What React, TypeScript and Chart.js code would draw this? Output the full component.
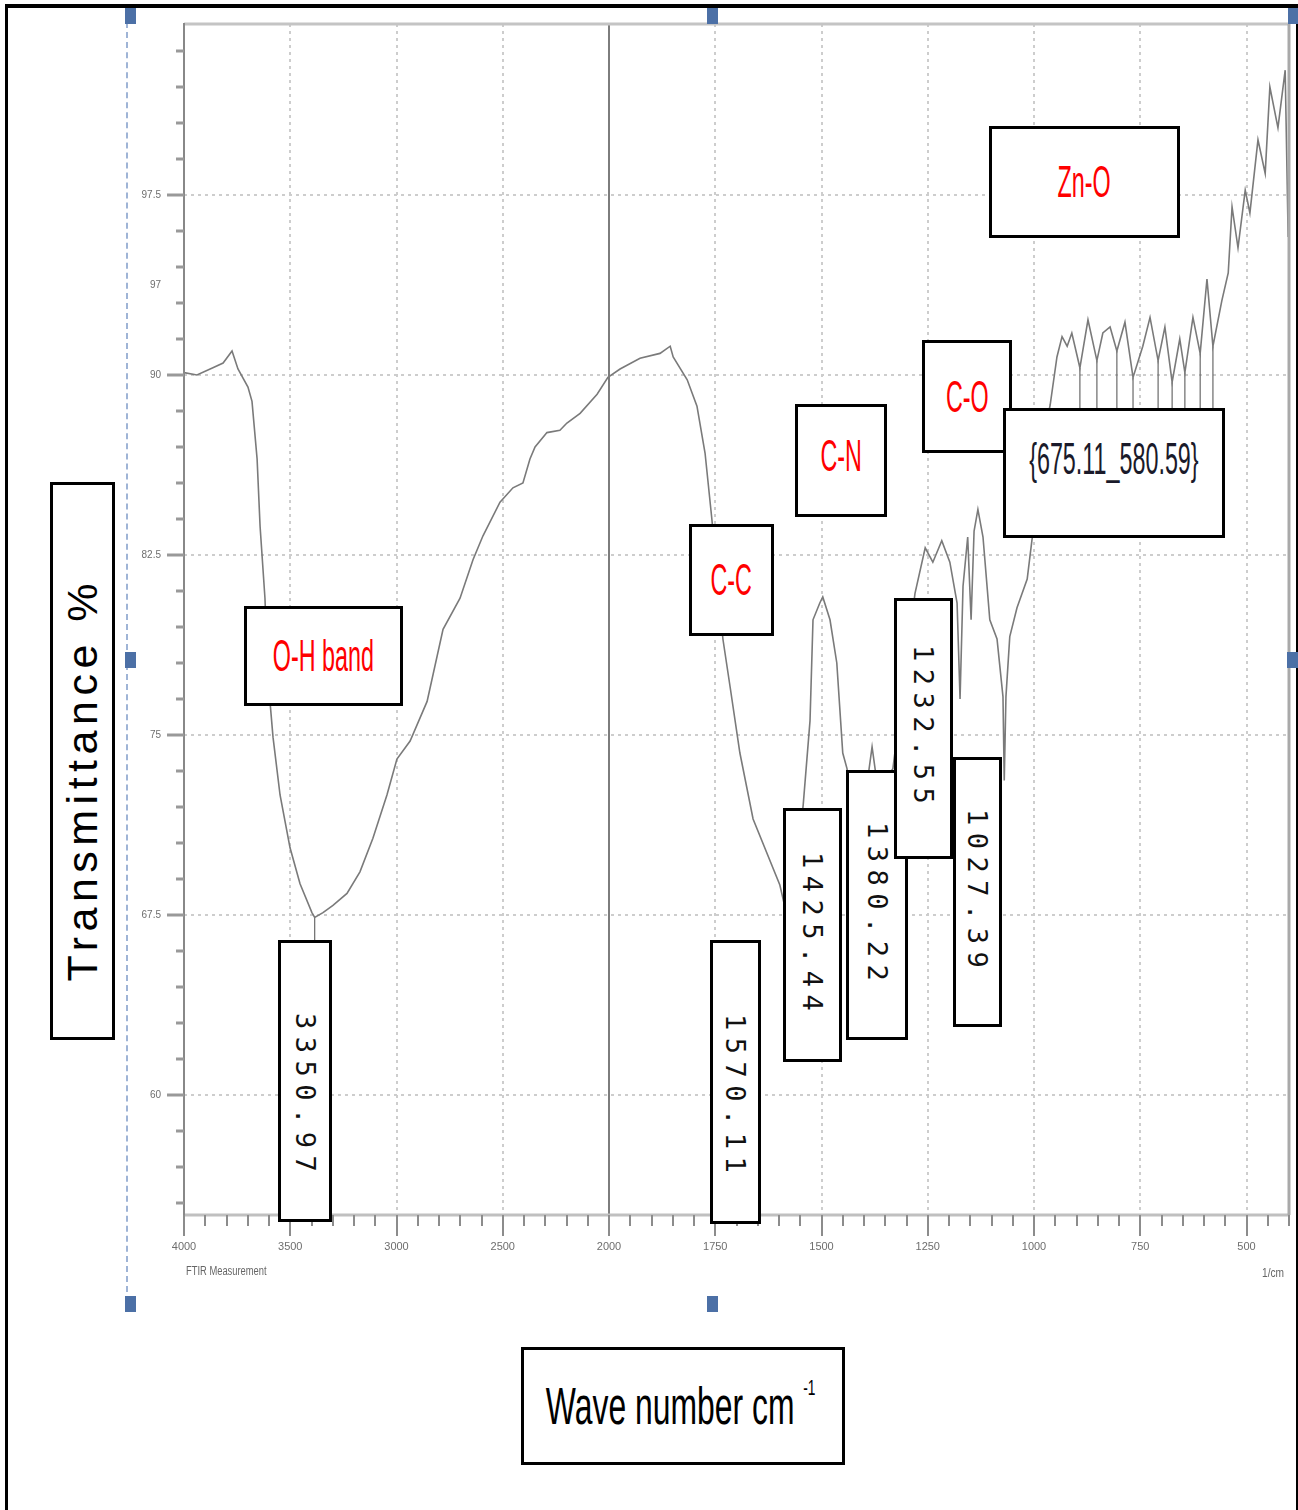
import React, { useEffect, useRef } from "react";
import { Chart, registerables } from "chart.js";

Chart.register(...registerables);

// ---------- DATA ----------
const wavenumbers = [
  4000, 3939, 3864, 3816, 3774, 3746, 3699, 3680, 3656, 3642,
  3619, 3605, 3581, 3548, 3501, 3454, 3398, 3385, 3346, 3299,
  3233, 3172, 3111, 3045, 2998, 2936, 2856, 2781, 2701, 2640,
  2593, 2513, 2452, 2405, 2372, 2348, 2292, 2231, 2198, 2136,
  2056, 2005, 1974, 1927, 1880, 1856, 1849, 1816, 1793, 1774,
  1758, 1732, 1715, 1692, 1661, 1598, 1574, 1543, 1527, 1520,
  1504, 1497, 1480, 1464, 1450, 1440, 1433, 1398, 1381, 1367,
  1332, 1308, 1280, 1256, 1238, 1217, 1198, 1181, 1174, 1167,
  1156, 1148, 1141, 1132, 1120, 1104, 1087, 1073, 1070, 1066,
  1057, 1040, 1016, 1005, 986, 974, 962, 946, 934, 922,
  911, 892, 873, 852, 838, 821, 805, 786, 767, 744,
  727, 708, 692, 675, 657, 645, 626, 609, 593, 579,
  558, 543, 534, 520, 503, 492, 473, 456, 445, 426,
  409, 402,
];

const transmittance = [
  90.1, 90.0, 90.3, 90.5, 91.0, 90.25, 89.5, 88.9, 86.5, 83.7,
  80.7, 77.4, 74.9, 72.5, 70.3, 68.8, 67.6, 67.4, 67.6, 67.9,
  68.4, 69.3, 70.7, 72.5, 74.0, 74.75, 76.4, 79.4, 80.7, 82.3,
  83.3, 84.7, 85.3, 85.5, 86.5, 87.0, 87.6, 87.7, 88.0, 88.4,
  89.2, 89.9, 90.25, 90.7, 90.9, 91.2, 90.75, 89.8, 88.7, 86.75,
  84.0, 79.0, 77.0, 74.25, 71.5, 68.75, 66.9, 72.1, 75.6, 79.8,
  80.5, 80.75, 79.8, 78.0, 74.25, 73.6, 72.7, 72.3, 74.5, 72.7,
  73.6, 77.0, 80.9, 82.8, 82.2, 83.1, 82.2, 80.5, 76.5, 81.2,
  83.25, 79.8, 83.5, 84.4, 83.25, 79.8, 79.0, 76.6, 73.1, 76.6,
  79.1, 80.3, 81.5, 83.1, 85.6, 87.7, 88.75, 90.75, 91.6, 91.2,
  91.75, 90.3, 92.3, 90.6, 91.75, 92.0, 91.0, 92.2, 89.9, 91.2,
  92.4, 90.6, 92.0, 89.7, 91.5, 90.1, 92.4, 90.9, 94.0, 91.2,
  93.1, 94.25, 97.0, 95.3, 97.7, 96.75, 99.8, 98.4, 102.0, 100.3,
  102.7, 95.75,
];

// peak marker lines (vertical ticks drawn from the local minima)
const markerWavenumbers = [3385, 892, 852, 805, 767, 708, 675, 645, 609, 579];
const markerTops = [67.4, 90.3, 90.6, 91.0, 89.9, 90.6, 89.7, 90.1, 90.9, 91.2];
const markerBottoms = [65.5, 87.5, 87.5, 87.5, 87.5, 87.5, 87.5, 87.5, 87.5, 87.5];

const xTickValues = [4000, 3500, 3000, 2500, 2000, 1750, 1500, 1250, 1000, 750, 500];
const xTickLabels = ["4000", "3500", "3000", "2500", "2000", "1750", "1500", "1250", "1000", "750", "500"];
const yTickValues = [97.5, 93.75, 90, 82.5, 75, 67.5, 60];
const yTickLabels = ["97.5", "97", "90", "82.5", "75", "67.5", "60"];
const yGridValues = [97.5, 90, 82.5, 75, 67.5, 60];

const peakLabels = ["3350.97", "1570.11", "1425.44", "1380.22", "1232.55", "1027.39"];
const bandLabels = ["O-H band", "C-C", "C-N", "C-O", "Zn-O"];
const rangeLabel = "{675.11_580.59}";
const yTitle = "Transmittance %";
const xTitle = "Wave number cm";
const xTitleSup = "-1";

// FTIR axis: 4000-2000 at 500 per division, 2000-400 at 250 per division
const toU = (w: number) => (w >= 2000 ? (4000 - w) / 500 : 4 + (2000 - w) / 250);

const X_MIN_W = 4000;
const X_MAX_W = 400;
const Y_MIN = 55;
const Y_MAX = 104.625;

const decorPlugin = {
  id: "ftirDecor",
  beforeDatasetsDraw(chart: any) {
    const { ctx, chartArea: a, scales } = chart;
    const x = scales.x;
    const y = scales.y;
    ctx.save();
    ctx.strokeStyle = "#cdcdcd";
    ctx.lineWidth = 2;
    ctx.setLineDash([3, 4]);
    xTickValues.forEach((w) => {
      if (w === 4000 || w === 2000) return;
      const px = Math.round(x.getPixelForValue(toU(w)));
      ctx.beginPath();
      ctx.moveTo(px, a.top);
      ctx.lineTo(px, a.bottom);
      ctx.stroke();
    });
    yGridValues.forEach((v) => {
      const py = Math.round(y.getPixelForValue(v));
      ctx.beginPath();
      ctx.moveTo(a.left, py);
      ctx.lineTo(a.right, py);
      ctx.stroke();
    });
    ctx.setLineDash([]);
    // solid line at the 2000 scale break
    const p2000 = Math.round(x.getPixelForValue(toU(2000)));
    ctx.strokeStyle = "#7d7d7d";
    ctx.lineWidth = 2;
    ctx.beginPath();
    ctx.moveTo(p2000, a.top);
    ctx.lineTo(p2000, a.bottom);
    ctx.stroke();
    ctx.restore();
  },
  afterDraw(chart: any) {
    const { ctx, chartArea: a, scales } = chart;
    const x = scales.x;
    const y = scales.y;
    ctx.save();
    // frame
    ctx.lineWidth = 3;
    ctx.strokeStyle = "#c4c4c4";
    ctx.beginPath();
    ctx.moveTo(a.left, a.top);
    ctx.lineTo(a.right, a.top);
    ctx.stroke();
    ctx.strokeStyle = "#c0c0c0";
    ctx.beginPath();
    ctx.moveTo(a.left, a.bottom);
    ctx.lineTo(a.right, a.bottom);
    ctx.stroke();
    ctx.strokeStyle = "#a9a9a9";
    ctx.beginPath();
    ctx.moveTo(a.right, a.top);
    ctx.lineTo(a.right, a.bottom);
    ctx.stroke();
    ctx.lineWidth = 2;
    ctx.strokeStyle = "#888";
    ctx.beginPath();
    ctx.moveTo(a.left, a.top - 1);
    ctx.lineTo(a.left, a.bottom + 2);
    ctx.stroke();

    // x tick marks
    ctx.strokeStyle = "#8c8c8c";
    ctx.lineWidth = 2;
    const drawXTick = (w: number, len: number) => {
      const px = Math.round(x.getPixelForValue(toU(w)));
      ctx.beginPath();
      ctx.moveTo(px, a.bottom);
      ctx.lineTo(px, a.bottom + len);
      ctx.stroke();
    };
    for (let w = 4000; w > 2000; w -= 100) drawXTick(w, w % 500 === 0 ? 21 : 11);
    for (let w = 2000; w >= X_MAX_W; w -= 50) drawXTick(w, w % 250 === 0 ? 21 : 11);

    // y tick marks
    ctx.strokeStyle = "#999";
    ctx.lineWidth = 3;
    for (let v = 55.5; v < Y_MAX; v += 1.5) {
      const major = Math.abs(((v - 60) / 7.5) - Math.round((v - 60) / 7.5)) < 1e-6;
      const py = Math.round(y.getPixelForValue(v));
      ctx.beginPath();
      ctx.moveTo(a.left, py);
      ctx.lineTo(a.left - (major ? 17 : 8), py);
      ctx.stroke();
    }
    ctx.restore();
  },
};

const markerData: any[] = [];
markerWavenumbers.forEach((w, i) => {
  markerData.push({ x: toU(w), y: markerTops[i] });
  markerData.push({ x: toU(w), y: markerBottoms[i] });
  markerData.push({ x: toU(w), y: null });
});

const boxBase: React.CSSProperties = {
  position: "absolute",
  boxSizing: "border-box",
  border: "3px solid #000",
  background: "#fff",
  display: "flex",
  alignItems: "center",
  justifyContent: "center",
  overflow: "visible",
};

const bandText: React.CSSProperties = {
  display: "inline-block",
  fontFamily: "'Liberation Sans', Arial, sans-serif",
  fontSize: 44,
  lineHeight: 1,
  color: "#ff0000",
  transform: "scaleX(0.53)",
  whiteSpace: "nowrap",
};

const peakText: React.CSSProperties = {
  writingMode: "vertical-rl",
  fontFamily: "'DejaVu Sans Mono', 'Liberation Mono', monospace",
  fontSize: 27,
  letterSpacing: 7.5,
  lineHeight: 1,
  color: "#111",
  whiteSpace: "nowrap",
};

const Box = ({ l, t, w, h, children, style }: any) => (
  <div style={{ ...boxBase, left: l, top: t, width: w, height: h, ...(style || {}) }}>{children}</div>
);

const Handle = ({ l, t }: any) => (
  <div style={{ position: "absolute", left: l, top: t, width: 11, height: 16, background: "#4c70a6" }} />
);

export default function App() {
  const canvasRef = useRef<HTMLCanvasElement>(null);

  useEffect(() => {
    document.documentElement.style.overflow = "hidden";
    const canvas = canvasRef.current!;
    const points = wavenumbers.map((w, i) => ({ x: toU(w), y: transmittance[i] }));
    const chart = new Chart(canvas, {
      type: "line",
      data: {
        datasets: [
          {
            label: "FTIR",
            data: points,
            borderColor: "#7a7a7a",
            borderWidth: 1.6,
            pointRadius: 0,
            tension: 0,
            fill: false,
          },
          {
            label: "markers",
            data: markerData,
            borderColor: "#6a6a6a",
            borderWidth: 1.2,
            pointRadius: 0,
            spanGaps: false,
            fill: false,
          },
        ],
      },
      options: {
        animation: false,
        responsive: false,
        devicePixelRatio: 1,
        layout: { padding: { left: 0, top: 24, right: 9, bottom: 0 } },
        plugins: { legend: { display: false }, tooltip: { enabled: false }, title: { display: false } },
        scales: {
          x: {
            type: "linear",
            min: toU(X_MIN_W),
            max: toU(X_MAX_W),
            grid: { display: false, drawTicks: true, tickLength: 25 },
            border: { display: false },
            afterBuildTicks: (scale: any) => {
              scale.ticks = xTickValues.map((w) => ({ value: toU(w) }));
            },
            afterFit: (scale: any) => {
              scale.height = 295;
            },
            ticks: {
              autoSkip: false,
              maxRotation: 0,
              padding: 0,
              color: "#6e6e6e",
              font: { family: "'Liberation Sans', Arial, sans-serif", size: 11 },
              callback: (_v: any, i: number) => xTickLabels[i],
            },
          },
          y: {
            type: "linear",
            min: Y_MIN,
            max: Y_MAX,
            grid: { display: false, drawTicks: true, tickLength: 23 },
            border: { display: false },
            afterBuildTicks: (scale: any) => {
              scale.ticks = yTickValues.map((v) => ({ value: v }));
            },
            afterFit: (scale: any) => {
              scale.width = 184;
            },
            ticks: {
              autoSkip: false,
              padding: 0,
              color: "#6e6e6e",
              font: { family: "'Liberation Sans', Arial, sans-serif", size: 10 },
              callback: (_v: any, i: number) => yTickLabels[i],
            },
          },
        },
      },
      plugins: [decorPlugin],
    } as any);
    return () => chart.destroy();
  }, []);

  return (
    <div
      style={{
        position: "absolute",
        left: 0,
        top: 0,
        width: 1298,
        height: 1510,
        background: "#fff",
        overflow: "hidden",
        fontFamily: "'Liberation Sans', Arial, sans-serif",
      }}
    >
      <canvas ref={canvasRef} width={1298} height={1510} style={{ position: "absolute", left: 0, top: 0 }} />

      {/* outer black frame */}
      <div style={{ position: "absolute", left: 5, top: 4, width: 1293, height: 4, background: "#000" }} />
      <div style={{ position: "absolute", left: 5, top: 4, width: 3, height: 1506, background: "#000" }} />
      <div style={{ position: "absolute", left: 1296, top: 4, width: 2, height: 1506, background: "#000" }} />

      {/* selection frame */}
      <div style={{ position: "absolute", left: 126, top: 12, width: 0, height: 1290, borderLeft: "2px dashed #9fb4d6" }} />
      <Handle l={125} t={8} />
      <Handle l={707} t={8} />
      <Handle l={1288} t={8} />
      <Handle l={125} t={652} />
      <Handle l={1287} t={652} />
      <Handle l={125} t={1296} />
      <Handle l={707} t={1296} />

      {/* axis captions */}
      <div style={{ position: "absolute", left: 186, top: 1264, fontSize: 12, color: "#666", transform: "scaleX(0.78)", transformOrigin: "left top", whiteSpace: "nowrap" }}>
        FTIR Measurement
      </div>
      <div style={{ position: "absolute", left: 1262, top: 1266, fontSize: 12, color: "#666", transform: "scaleX(0.85)", transformOrigin: "left top" }}>
        1/cm
      </div>

      {/* y title */}
      <Box l={50} t={482} w={65} h={558} style={{ paddingTop: 38 }}>
        <span style={{ writingMode: "vertical-rl", transform: "rotate(180deg)", fontSize: 43, letterSpacing: 5.5, color: "#000", whiteSpace: "nowrap", lineHeight: 1 }}>
          {yTitle}
        </span>
      </Box>

      {/* x title */}
      <Box l={521} t={1347} w={324} h={118}>
        <span style={{ display: "inline-block", fontSize: 51, lineHeight: 1, color: "#000", transform: "scaleX(0.625)", whiteSpace: "nowrap", marginLeft: -4 }}>
          {xTitle}
          <sup style={{ fontSize: 22, verticalAlign: "top", position: "relative", top: -4, marginLeft: 14 }}>{xTitleSup}</sup>
        </span>
      </Box>

      {/* band labels */}
      <Box l={244} t={606} w={159} h={100}>
        <span style={bandText}>{bandLabels[0]}</span>
      </Box>
      <Box l={689} t={524} w={85} h={112}>
        <span style={bandText}>{bandLabels[1]}</span>
      </Box>
      <Box l={795} t={404} w={92} h={113} style={{ paddingBottom: 10 }}>
        <span style={bandText}>{bandLabels[2]}</span>
      </Box>
      <Box l={922} t={340} w={90} h={113}>
        <span style={bandText}>{bandLabels[3]}</span>
      </Box>
      <Box l={989} t={126} w={191} h={112}>
        <span style={bandText}>{bandLabels[4]}</span>
      </Box>
      <Box l={1003} t={408} w={222} h={130} style={{ paddingBottom: 28 }}>
        <span style={{ ...bandText, color: "#1a1a2a" }}>{rangeLabel}</span>
      </Box>

      {/* peak labels */}
      <Box l={278} t={940} w={54} h={282} style={{ paddingTop: 30 }}>
        <span style={peakText}>{peakLabels[0]}</span>
      </Box>
      <Box l={710} t={940} w={51} h={284} style={{ paddingTop: 30 }}>
        <span style={peakText}>{peakLabels[1]}</span>
      </Box>
      <Box l={783} t={808} w={59} h={254}>
        <span style={peakText}>{peakLabels[2]}</span>
      </Box>
      <Box l={846} t={770} w={62} h={270}>
        <span style={peakText}>{peakLabels[3]}</span>
      </Box>
      <Box l={894} t={598} w={59} h={261}>
        <span style={peakText}>{peakLabels[4]}</span>
      </Box>
      <Box l={953} t={757} w={49} h={270}>
        <span style={peakText}>{peakLabels[5]}</span>
      </Box>
    </div>
  );
}
